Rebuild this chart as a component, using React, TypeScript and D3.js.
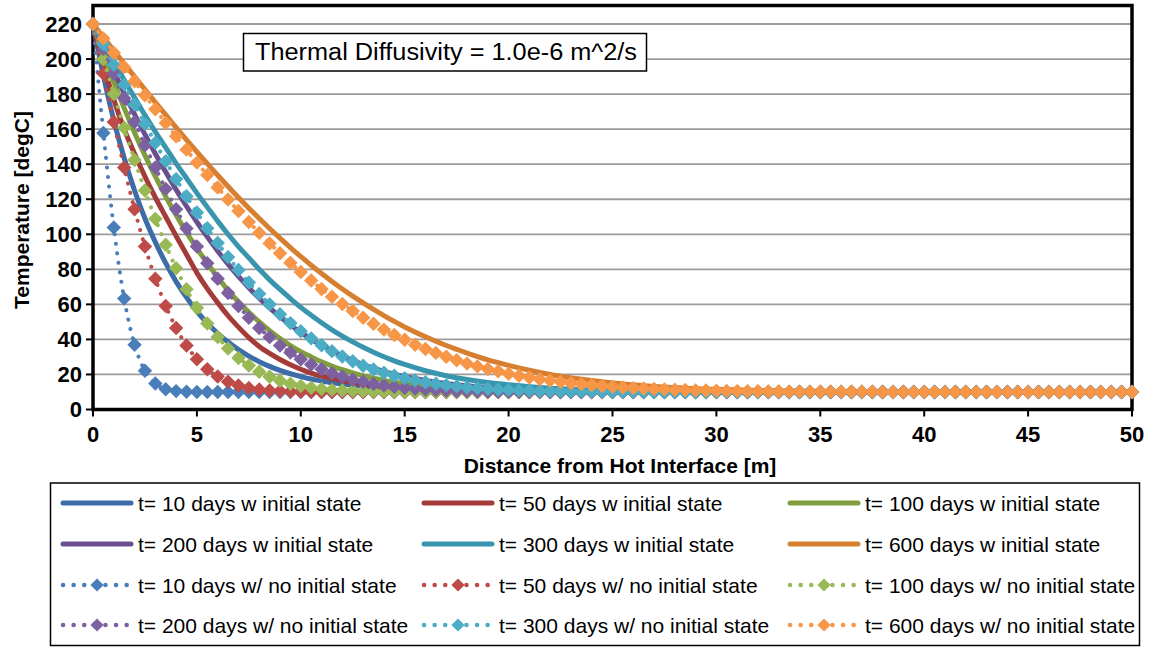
import React from 'react';
import * as d3 from 'd3';

const W = 1149;
const H = 647;

// distance grid of the "no initial state" series (m)
const DIST = [
  0, 0.5, 1, 1.5, 2, 2.5, 3, 3.5, 4, 4.5, 5, 5.5, 6, 6.5, 7, 7.5, 8, 8.5, 9, 9.5,
  10, 10.5, 11, 11.5, 12, 12.5, 13, 13.5, 14, 14.5, 15, 15.5, 16, 16.5, 17, 17.5, 18, 18.5, 19, 19.5,
  20, 20.5, 21, 21.5, 22, 22.5, 23, 23.5, 24, 24.5, 25, 25.5, 26, 26.5, 27, 27.5, 28, 28.5, 29, 29.5,
  30, 30.5, 31, 31.5, 32, 32.5, 33, 33.5, 34, 34.5, 35, 35.5, 36, 36.5, 37, 37.5, 38, 38.5, 39, 39.5,
  40, 40.5, 41, 41.5, 42, 42.5, 43, 43.5, 44, 44.5, 45, 45.5, 46, 46.5, 47, 47.5, 48, 48.5, 49, 49.5, 50,
];

// distance grid of the "w initial state" series (m)
const SOLID_DIST = [
  0, 0.5, 1, 1.5, 2, 2.5, 3, 3.5, 4, 4.5, 5, 5.5, 6, 6.5, 7, 7.5, 8, 8.5, 9, 9.5,
  10, 10.5, 11, 11.5, 12, 12.5, 13, 13.5, 14, 14.5, 15,
  16, 17, 18, 19, 20, 21, 22, 23, 24, 25, 26, 27, 28, 29, 30,
  32, 34, 36, 38, 40, 45, 50,
];

// ---- w initial state (solid) ----
const T10_INIT = [
  220, 190.5, 165, 143.5, 125, 109, 95.5, 83.5, 73, 64, 56, 49.3, 43.5, 38.5, 34.2, 30.5, 27.3, 24.6, 22.3, 20.4,
  18.8, 17.4, 16.3, 15.3, 14.5, 13.8, 13.2, 12.7, 12.3, 11.9, 11.6,
  11.1, 10.8, 10.5, 10.4, 10.3, 10.2, 10.1, 10.1, 10, 10, 10, 10, 10, 10, 10,
  10, 10, 10, 10, 10, 10, 10,
];
const T50_INIT = [
  220, 197, 177, 160, 146, 133, 121, 110, 99, 88.5, 78, 69, 61, 53.5, 47, 41, 36, 32, 28.5, 25.5,
  23, 20.8, 19, 17.6, 16.4, 15.4, 14.5, 13.8, 13.1, 12.6, 12.1,
  11.4, 10.9, 10.6, 10.4, 10.2, 10.1, 10.1, 10, 10, 10, 10, 10, 10, 10, 10,
  10, 10, 10, 10, 10, 10, 10,
];
const T100_INIT = [
  220, 203, 187, 172, 158, 145, 133, 121.5, 111, 101, 92, 83.5, 75.5, 68, 61.5, 55.5, 50, 45, 40.5, 36.5,
  33, 30, 27.2, 24.8, 22.7, 20.9, 19.2, 17.8, 16.6, 15.6, 14.7,
  13.3, 12.3, 11.6, 11.1, 10.8, 10.5, 10.3, 10.2, 10.1, 10.1, 10, 10, 10, 10, 10,
  10, 10, 10, 10, 10, 10, 10,
];
const T200_INIT = [
  220, 206, 193, 180.5, 168.5, 157, 146, 135.5, 125.5, 116, 107, 98.5, 90.5, 83, 76, 69.5, 63.5, 58, 53, 48.3,
  44, 40.2, 36.7, 33.5, 30.6, 28, 25.7, 23.6, 21.8, 20.2, 18.8,
  16.5, 14.8, 13.5, 12.5, 11.8, 11.3, 10.9, 10.6, 10.4, 10.3, 10.2, 10.1, 10.1, 10, 10,
  10, 10, 10, 10, 10, 10, 10,
];
const T300_INIT = [
  220, 209, 198.5, 188, 178, 168, 158.5, 149.5, 140.5, 132, 123.5, 115.5, 107.5, 100, 93, 86.5, 80, 74, 68.5, 63.3,
  58.3, 53.8, 49.5, 45.5, 41.9, 38.6, 35.5, 32.7, 30.1, 27.8, 25.7,
  22.1, 19.3, 17.1, 15.4, 14.1, 13, 12.2, 11.6, 11.2, 10.8, 10.6, 10.4, 10.3, 10.2, 10.1,
  10, 10, 10, 10, 10, 10, 10,
];
const T600_INIT = [
  220, 212.5, 204.9, 197.4, 190, 182.6, 175.3, 168.1, 160.9, 153.9, 147, 140.3, 133.7, 127.3, 121, 114.9, 109, 103.3, 97.8, 92.4,
  87.3, 82.3, 77.6, 73.1, 68.8, 64.7, 60.8, 57.1, 53.6, 50.3, 47.1,
  41.5, 36.5, 32.2, 28.3, 25.2, 22.4, 20, 18.1, 16.5, 15.1, 14.1, 13.2, 12.5, 11.9, 11.5,
  10.9, 10.5, 10.3, 10.1, 10.1, 10, 10,
];

// ---- w/ no initial state (dotted + diamonds) ----
const T10_NOINIT = [
  220, 157.8, 103.9, 63.3, 37, 22.1, 14.8, 11.6, 10.5, 10.1,
  10, 10, 10, 10, 10, 10, 10, 10, 10, 10, 10, 10, 10, 10, 10, 10, 10, 10, 10, 10,
  10, 10, 10, 10, 10, 10, 10, 10, 10, 10, 10, 10, 10, 10, 10, 10, 10, 10, 10, 10,
  10, 10, 10, 10, 10, 10, 10, 10, 10, 10, 10, 10, 10, 10, 10, 10, 10, 10, 10, 10,
  10, 10, 10, 10, 10, 10, 10, 10, 10, 10, 10, 10, 10, 10, 10, 10, 10, 10, 10, 10,
  10, 10, 10, 10, 10, 10, 10, 10, 10, 10, 10,
];
const T50_NOINIT = [
  220, 191.7, 164.1, 138.1, 114.3, 93, 74.6, 59.1, 46.5, 36.5, 28.7, 23, 18.8, 15.8, 13.7, 12.3, 11.4, 10.8, 10.5, 10.3,
  10.1, 10.1,
  10, 10, 10, 10, 10, 10, 10, 10, 10, 10, 10, 10, 10, 10, 10, 10, 10, 10, 10, 10,
  10, 10, 10, 10, 10, 10, 10, 10, 10, 10, 10, 10, 10, 10, 10, 10, 10, 10, 10, 10,
  10, 10, 10, 10, 10, 10, 10, 10, 10, 10, 10, 10, 10, 10, 10, 10, 10, 10, 10, 10,
  10, 10, 10, 10, 10, 10, 10, 10, 10, 10, 10, 10, 10, 10, 10, 10, 10, 10, 10,
];
const T100_NOINIT = [
  220, 199.9, 180.1, 160.8, 142.4, 125, 108.8, 94, 80.6, 68.7, 58.1, 49.1, 41.4, 34.8, 29.4, 25.1, 21.5, 18.7, 16.4, 14.7,
  13.4, 12.4, 11.7, 11.2, 10.8, 10.6, 10.4, 10.3, 10.2, 10.1, 10.1,
  10, 10, 10, 10, 10, 10, 10, 10, 10, 10, 10, 10, 10, 10, 10, 10, 10, 10, 10, 10,
  10, 10, 10, 10, 10, 10, 10, 10, 10, 10, 10, 10, 10, 10, 10, 10, 10, 10, 10, 10,
  10, 10, 10, 10, 10, 10, 10, 10, 10, 10, 10, 10, 10, 10, 10, 10, 10, 10, 10, 10,
  10, 10, 10, 10, 10, 10, 10, 10, 10, 10,
];
const T200_NOINIT = [
  220, 205.8, 191.6, 177.7, 164.1, 150.8, 138.1, 125.9, 114.3, 103.3, 93, 83.5, 74.6, 66.5, 59.1, 52.4, 46.5, 41.3, 36.5, 32.5,
  28.7, 25.7, 23, 20.7, 18.8, 17, 15.8, 14.6, 13.7, 12.9, 12.3, 11.8, 11.4, 11.1, 10.8, 10.6, 10.5, 10.4, 10.3, 10.2,
  10.1, 10.1, 10.1, 10.1,
  10, 10, 10, 10, 10, 10, 10, 10, 10, 10, 10, 10, 10, 10, 10, 10, 10, 10, 10, 10,
  10, 10, 10, 10, 10, 10, 10, 10, 10, 10, 10, 10, 10, 10, 10, 10, 10, 10, 10, 10,
  10, 10, 10, 10, 10, 10, 10, 10, 10, 10, 10, 10, 10, 10, 10, 10, 10,
];
const T300_NOINIT = [
  220, 208.4, 196.8, 185.4, 174.1, 163, 152.2, 141.7, 131.5, 121.7, 112.4, 103.5, 95, 87, 79.6, 72.5, 66, 60, 54.4, 49.3,
  44.7, 40.6, 36.7, 33.3, 30.2, 27.5, 25, 22.9, 21, 19.3, 17.9, 16.6, 15.6, 14.7, 13.9, 13.2, 12.6, 12.2, 11.8, 11.4,
  11.2, 10.9, 10.8, 10.6, 10.5, 10.4, 10.3, 10.2, 10.2, 10.1, 10.1, 10.1, 10.1,
  10, 10, 10, 10, 10, 10, 10, 10, 10, 10, 10, 10, 10, 10, 10, 10, 10, 10, 10, 10,
  10, 10, 10, 10, 10, 10, 10, 10, 10, 10, 10, 10, 10, 10, 10, 10, 10, 10, 10, 10,
  10, 10, 10, 10, 10, 10, 10, 10,
];
const T600_NOINIT = [
  220, 211.8, 203.6, 195.4, 187.3, 179.3, 171.4, 163.5, 155.9, 148.3, 140.9, 133.8, 126.7, 119.9, 113.3, 107, 100.8, 94.8, 89.2, 83.7,
  78.5, 73.6, 68.8, 64.3, 60.2, 56.2, 52.4, 48.9, 45.6, 42.5, 39.8, 37, 34.5, 32.3, 30.1, 28.1, 26.2, 24.6, 23.1, 21.8,
  20.4, 19.3, 18.3, 17.3, 16.5, 15.8, 15, 14.5, 13.9, 13.4, 13, 12.6, 12.2, 12, 11.7, 11.5, 11.3, 11.1, 10.9, 10.8,
  10.7, 10.6, 10.5, 10.4, 10.4, 10.3, 10.3, 10.2, 10.2, 10.2, 10.1, 10.1, 10.1, 10.1, 10.1, 10.1,
  10, 10, 10, 10, 10, 10, 10, 10, 10, 10, 10, 10, 10, 10, 10, 10, 10, 10, 10, 10,
  10, 10, 10, 10, 10,
];

const LABELS_INIT = [
  't= 10 days w initial state',
  't= 50 days w initial state',
  't= 100 days w initial state',
  't= 200 days w initial state',
  't= 300 days w initial state',
  't= 600 days w initial state',
];
const LABELS_NOINIT = [
  't= 10 days w/ no initial state',
  't= 50 days w/ no initial state',
  't= 100 days w/ no initial state',
  't= 200 days w/ no initial state',
  't= 300 days w/ no initial state',
  't= 600 days w/ no initial state',
];
const COLORS_INIT = ['#3C6DA8', '#A53B38', '#809E3E', '#6B4E8D', '#3995AD', '#D77F31'];
const COLORS_NOINIT = ['#4A7EBB', '#BE4B48', '#98B954', '#7D60A0', '#4BACC6', '#F79646'];

const Y_TICKS = [0, 20, 40, 60, 80, 100, 120, 140, 160, 180, 200, 220];
const X_TICKS = [0, 5, 10, 15, 20, 25, 30, 35, 40, 45, 50];

const TITLE = 'Thermal Diffusivity = 1.0e-6 m^2/s';
const X_TITLE = 'Distance from Hot Interface [m]';
const Y_TITLE = 'Temperature [degC]';

const FONT = '"Liberation Sans", Arial, sans-serif';

export default function App() {
  const x = d3.scaleLinear().domain([0, 50]).range([93, 1132]);
  const y = d3.scaleLinear().domain([0, 230]).range([409.5, 6.5]);

  const line = d3
    .line<[number, number]>()
    .x((d) => x(d[0]))
    .y((d) => y(d[1]))
    .curve(d3.curveMonotoneX);

  const diamondPath = d3.symbol().type(d3.symbolSquare).size(104)() as string;
  const legendDiamond = d3.symbol().type(d3.symbolSquare).size(86)() as string;

  const solidSeries = [T10_INIT, T50_INIT, T100_INIT, T200_INIT, T300_INIT, T600_INIT].map((vals) =>
    SOLID_DIST.map((d, i) => [d, vals[i]] as [number, number])
  );
  const dottedSeries = [T10_NOINIT, T50_NOINIT, T100_NOINIT, T200_NOINIT, T300_NOINIT, T600_NOINIT].map((vals) =>
    DIST.map((d, i) => [d, vals[i]] as [number, number])
  );

  const [x0, x1] = x.range();
  const [yb, yt] = y.range();

  const legendCols = [61, 422, 788];
  const legendRows = [503, 544, 585, 625];
  const legendItems = [
    ...LABELS_INIT.map((label, i) => ({ label, color: COLORS_INIT[i], dotted: false })),
    ...LABELS_NOINIT.map((label, i) => ({ label, color: COLORS_NOINIT[i], dotted: true })),
  ];

  return (
    <svg
      width={W}
      height={H}
      viewBox={`0 0 ${W} ${H}`}
      style={{ position: 'absolute', left: 0, top: 0, background: '#fff' }}
      fontFamily={FONT}
    >
      <rect x={0} y={0} width={W} height={H} fill="#fff" />

      {/* gridlines */}
      {Y_TICKS.filter((t) => t > 0).map((t) => (
        <line key={'g' + t} x1={x0} x2={x1} y1={y(t)} y2={y(t)} stroke="#9c9c9c" strokeWidth={1.8} />
      ))}

      {/* y ticks */}
      {Y_TICKS.map((t) => (
        <line key={'yt' + t} x1={x0 - 7} x2={x0} y1={y(t)} y2={y(t)} stroke="#000" strokeWidth={2} />
      ))}
      {/* x ticks */}
      {X_TICKS.map((t) => (
        <line key={'xt' + t} x1={x(t)} x2={x(t)} y1={yb} y2={yb + 7} stroke="#000" strokeWidth={2} />
      ))}

      {/* frame */}
      <rect x={x0} y={yt - 1} width={x1 - x0} height={yb - yt + 1} fill="none" stroke="#000" strokeWidth={3.5} />

      {/* solid series */}
      {solidSeries.map((pts, i) => (
        <path
          key={'s' + i}
          d={line(pts) as string}
          fill="none"
          stroke={COLORS_INIT[i]}
          strokeWidth={5}
          strokeLinejoin="round"
          strokeLinecap="round"
        />
      ))}

      {/* dotted series with diamonds */}
      {dottedSeries.map((pts, i) => (
        <g key={'d' + i}>
          <path
            d={line(pts) as string}
            fill="none"
            stroke={COLORS_NOINIT[i]}
            strokeWidth={4}
            strokeDasharray="0.1 9.5"
            strokeLinecap="round"
          />
          {pts.map((p, j) => (
            <path
              key={j}
              d={diamondPath}
              transform={`translate(${x(p[0])},${y(p[1])}) rotate(45)`}
              fill={COLORS_NOINIT[i]}
            />
          ))}
        </g>
      ))}

      {/* y tick labels */}
      {Y_TICKS.map((t) => (
        <text
          key={'yl' + t}
          x={82}
          y={y(t)}
          dy="0.36em"
          textAnchor="end"
          fontSize={22}
          fontWeight="bold"
          fill="#000"
        >
          {t}
        </text>
      ))}
      {/* x tick labels */}
      {X_TICKS.map((t) => (
        <text key={'xl' + t} x={x(t)} y={442} textAnchor="middle" fontSize={22} fontWeight="bold" fill="#000">
          {t}
        </text>
      ))}

      {/* axis titles */}
      <text x={620} y={473} textAnchor="middle" fontSize={21} fontWeight="bold" fill="#000">
        {X_TITLE}
      </text>
      <text
        transform={`translate(29,${(yb + yt) / 2 + 2}) rotate(-90)`}
        textAnchor="middle"
        fontSize={21}
        fontWeight="bold"
        fill="#000"
      >
        {Y_TITLE}
      </text>

      {/* annotation box */}
      <rect x={243.5} y={33.5} width={403} height={37.5} fill="#fff" stroke="#000" strokeWidth={1.5} />
      <text x={255} y={60} fontSize={23} fill="#000" textLength={382} lengthAdjust="spacingAndGlyphs">
        {TITLE}
      </text>

      {/* legend */}
      <rect x={50.5} y={483} width={1089} height={162.5} fill="#fff" stroke="#000" strokeWidth={1.5} />
      {legendItems.map((it, k) => {
        const cx = legendCols[k % 3];
        const cy = legendRows[Math.floor(k / 3)];
        return (
          <g key={'lg' + k}>
            {it.dotted ? (
              <>
                <line
                  x1={cx + 2}
                  x2={cx + 71}
                  y1={cy}
                  y2={cy}
                  stroke={it.color}
                  strokeWidth={4.5}
                  strokeDasharray="0.1 10.5"
                  strokeLinecap="round"
                />
                <path d={legendDiamond} transform={`translate(${cx + 36},${cy}) rotate(45)`} fill={it.color} />
              </>
            ) : (
              <line x1={cx + 2} x2={cx + 70} y1={cy} y2={cy} stroke={it.color} strokeWidth={5} strokeLinecap="round" />
            )}
            <text x={cx + 77} y={cy} dy="0.36em" fontSize={21} fill="#000">
              {it.label}
            </text>
          </g>
        );
      })}
    </svg>
  );
}
